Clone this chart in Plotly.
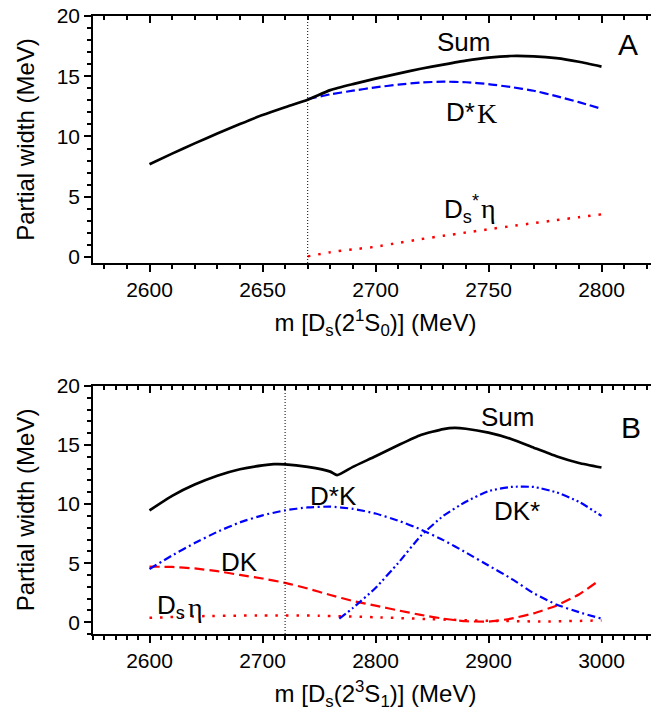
import plotly.graph_objects as go

# ---------------- Panel A : D_s(2^1S_0) ----------------
thr_A = 2670
mA_sum = [2600, 2610, 2620, 2630, 2640, 2650, 2660, 2670, 2680, 2690, 2700,
          2710, 2720, 2730, 2740, 2750, 2760, 2770, 2780, 2790, 2800]
sum_A = [7.70, 8.58, 9.43, 10.25, 11.03, 11.78, 12.43, 13.05, 13.85, 14.35, 14.80,
         15.22, 15.62, 15.97, 16.30, 16.55, 16.68, 16.65, 16.50, 16.20, 15.80]
mA_ch = [2670, 2680, 2690, 2700, 2710, 2720, 2730, 2740, 2750, 2760, 2770, 2780, 2790, 2800]
dstarK_A = [13.10, 13.50, 13.80, 14.08, 14.30, 14.48, 14.55, 14.50, 14.35, 14.10, 13.80, 13.35, 12.85, 12.30]
dsstareta_A = [0.05, 0.40, 0.63, 0.85, 1.17, 1.48, 1.76, 2.03, 2.30, 2.56, 2.81, 3.06, 3.30, 3.54]

# ---------------- Panel B : D_s(2^3S_1) ----------------
thr_B = 2720
mB_sum = [2600, 2620, 2640, 2660, 2680, 2700, 2710, 2720, 2740, 2760, 2766, 2780, 2800,
          2820, 2840, 2860, 2870, 2880, 2900, 2920, 2940, 2960, 2980, 3000]
sum_B = [9.47, 10.70, 11.65, 12.40, 12.95, 13.28, 13.38, 13.37, 13.15, 12.75, 12.45, 13.15, 14.05,
         14.98, 15.85, 16.35, 16.45, 16.38, 16.05, 15.52, 14.78, 14.05, 13.48, 13.10]
mB = [2600, 2620, 2640, 2660, 2680, 2700, 2720, 2740, 2760, 2780, 2800, 2820, 2840,
      2860, 2880, 2900, 2920, 2940, 2960, 2980, 3000]
dstarK_B = [4.50, 5.65, 6.70, 7.65, 8.45, 9.05, 9.47, 9.72, 9.78, 9.60, 9.20, 8.60, 7.85,
            6.95, 5.90, 4.80, 3.70, 2.45, 1.50, 0.85, 0.30]
mB_dk = [2600, 2620, 2640, 2660, 2680, 2700, 2720, 2740, 2760, 2780, 2800, 2820, 2840,
         2860, 2880, 2900, 2920, 2940, 2960, 2980, 2996]
dK_B = [4.70, 4.68, 4.55, 4.32, 4.00, 3.70, 3.33, 2.85, 2.30, 1.80, 1.40, 1.00, 0.62,
        0.30, 0.08, 0.05, 0.30, 0.75, 1.40, 2.35, 3.40]
mB_dkstar = [2768, 2780, 2800, 2820, 2840, 2860, 2880, 2900, 2920, 2940, 2960, 2980, 3000]
dKstar_B = [0.30, 1.20, 2.90, 5.00, 7.30, 9.00, 10.20, 11.10, 11.45, 11.45, 11.00, 10.20, 9.00]
mB_eta = [2600, 2650, 2700, 2750, 2800, 2850, 2900, 2950, 3000]
dseta_B = [0.37, 0.52, 0.57, 0.55, 0.42, 0.25, 0.12, 0.06, 0.15]

FONT = "Arial, 'Liberation Sans', sans-serif"
SERIF = "'Liberation Serif', 'Times New Roman', serif"

fig = go.Figure()

def line(x, y, color, width, dash, xa, ya):
    fig.add_trace(go.Scatter(x=x, y=y, mode="lines", xaxis=xa, yaxis=ya,
                             line=dict(color=color, width=width, dash=dash,
                                       shape="spline", smoothing=0.5),
                             showlegend=False, hoverinfo="skip"))

# panel A
line(mA_ch, dsstareta_A, "red", 2.5, "2.5px,8px", "x", "y")
line(mA_ch, dstarK_A, "blue", 2.2, "9px,4px", "x", "y")
line(mA_sum, sum_A, "black", 2.7, "solid", "x", "y")
# panel B
line(mB_eta, dseta_B, "red", 2.5, "2.5px,8px", "x2", "y2")
line(mB_dk, dK_B, "red", 2.2, "10px,5px", "x2", "y2")
line(mB, dstarK_B, "blue", 2.2, "8px,3.5px,2px,3.5px", "x2", "y2")
line(mB_dkstar, dKstar_B, "blue", 2.2, "8px,3px,2px,3px,2px,3px", "x2", "y2")
line(mB_sum, sum_B, "black", 2.7, "solid", "x2", "y2")

vl = dict(color="black", width=1, dash="1px,2px")
fig.add_shape(type="line", xref="x", yref="y domain", x0=thr_A, x1=thr_A, y0=0, y1=1, line=vl)
fig.add_shape(type="line", xref="x2", yref="y2 domain", x0=thr_B, x1=thr_B, y0=0, y1=1, line=vl)

tickfont = dict(family=FONT, size=21, color="black")
titlefont = dict(family=FONT, size=24, color="black")

def xax(rng, dtick, anchor, title):
    return dict(range=rng, dtick=dtick, tick0=2600, anchor=anchor, ticks="outside", ticklen=7,
                tickwidth=1.5, tickcolor="black", showline=True, linewidth=1.5, linecolor="black",
                showgrid=False, zeroline=False, tickfont=tickfont, automargin=False,
                ticklabeloverflow="allow",
                minor=dict(dtick=10, ticks="outside", ticklen=4, tickwidth=1.5, tickcolor="black"),
                title=dict(text=title, font=titlefont, standoff=14))

def yax(rng, domain, anchor):
    return dict(range=rng, domain=domain, dtick=5, tick0=0, anchor=anchor, ticks="outside", ticklen=7,
                tickwidth=1.5, tickcolor="black", showline=True, linewidth=1.5, linecolor="black",
                showgrid=False, zeroline=False, tickfont=tickfont, automargin=False,
                ticklabeloverflow="allow",
                minor=dict(dtick=1, ticks="outside", ticklen=4, tickwidth=1.5, tickcolor="black"),
                title=dict(text="Partial width (MeV)", font=titlefont, standoff=15))

def xmirror(rng, dtick, over, anchor):
    return dict(range=rng, dtick=dtick, tick0=2600, overlaying=over, anchor=anchor, side="top",
                ticks="inside", ticklen=7, tickwidth=1.5, tickcolor="black", showline=True,
                linewidth=1.5, linecolor="black", showgrid=False, zeroline=False, showticklabels=False,
                automargin=False,
                minor=dict(dtick=10, ticks="inside", ticklen=4, tickwidth=1.5, tickcolor="black"))

def ymirror(rng, over, anchor):
    return dict(range=rng, dtick=5, tick0=0, overlaying=over, anchor=anchor, side="right",
                ticks="inside", ticklen=7, tickwidth=1.5, tickcolor="black", showline=True,
                linewidth=1.5, linecolor="black", showgrid=False, zeroline=False, showticklabels=False,
                automargin=False,
                minor=dict(dtick=1, ticks="inside", ticklen=4, tickwidth=1.5, tickcolor="black"))

rxA = [2575, 2825]
ryA = [-0.5, 20]
rxB = [2550, 3050]
ryB = [-1, 20]

# invisible traces so that mirror axes are drawn
fig.add_trace(go.Scatter(x=[None], y=[None], xaxis="x3", yaxis="y3", showlegend=False, hoverinfo="skip"))
fig.add_trace(go.Scatter(x=[None], y=[None], xaxis="x4", yaxis="y4", showlegend=False, hoverinfo="skip"))

# the page body adds an 8px offset, so the figure is sized 8px smaller
fig.update_layout(
    template="none",
    width=651, height=707,
    margin=dict(l=85, r=1, t=8, b=81, autoexpand=False),
    paper_bgcolor="white", plot_bgcolor="white",
    font=dict(family=FONT, color="black"),
    xaxis=xax(rxA, 50, "y", "m [D<sub>s</sub>(2<sup>1</sup>S<sub>0</sub>)] (MeV)"),
    yaxis=yax(ryA, [0.6003, 1.0], "x"),
    xaxis2=xax(rxB, 100, "y2", "m [D<sub>s</sub>(2<sup>3</sup>S<sub>1</sub>)] (MeV)"),
    yaxis2=yax(ryB, [0.0, 0.4013], "x2"),
    xaxis3=xmirror(rxA, 50, "x", "y"),
    yaxis3=ymirror(ryA, "y", "x"),
    xaxis4=xmirror(rxB, 100, "x2", "y2"),
    yaxis4=ymirror(ryB, "y2", "x2"),
)

lab = dict(family=FONT, size=26, color="black")
labserif = dict(family=SERIF, size=28, color="black")
big = dict(family=FONT, size=30, color="black")
ann = [
    dict(x=2739, y=17.87, xref="x", yref="y", text="Sum", font=lab),
    dict(x=2811.6, y=17.65, xref="x", yref="y", text="A", font=big),
    dict(x=2744.4, y=12.06, xref="x", yref="y", text="D*", font=lab, xanchor="right"),
    dict(x=2744.5, y=11.95, xref="x", yref="y", text="K", font=labserif, xanchor="left"),
    dict(x=2746.2, y=4.0, xref="x", yref="y", xanchor="right",
         text="D<sub>s</sub><sup>*</sup>", font=lab),
    dict(x=2746.4, y=4.0, xref="x", yref="y", xanchor="left", text="η", font=labserif),
    dict(x=2917, y=17.36, xref="x2", yref="y2", text="Sum", font=lab),
    dict(x=3026, y=16.5, xref="x2", yref="y2", text="B", font=big),
    dict(x=2762.5, y=10.7, xref="x2", yref="y2", text="D*K", font=lab),
    dict(x=2925, y=9.4, xref="x2", yref="y2", text="DK*", font=lab),
    dict(x=2679.5, y=5.1, xref="x2", yref="y2", text="DK", font=lab),
    dict(x=2632.5, y=1.3, xref="x2", yref="y2", xanchor="right",
         text="D<sub>s</sub>", font=lab),
    dict(x=2632.8, y=1.25, xref="x2", yref="y2", xanchor="left", text="η", font=labserif),
]
for a in ann:
    a.setdefault("showarrow", False)
    a.setdefault("xanchor", "center")
    a.setdefault("yanchor", "middle")
    a["borderpad"] = 0
fig.update_layout(annotations=ann)

fig.write_html("out.html")
